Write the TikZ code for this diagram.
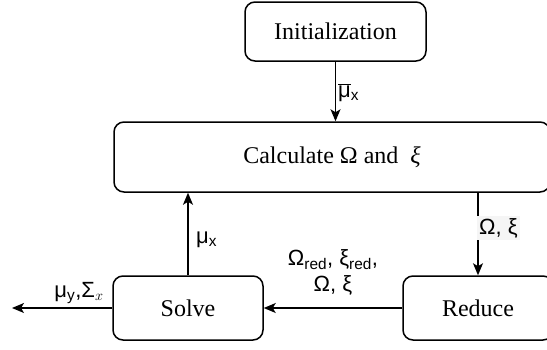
\documentclass[tikz,border=0pt]{standalone}
\usepackage{fontspec}
\setmainfont{Liberation Serif}
\newfontfamily\lblfont{Liberation Sans}
\usetikzlibrary{arrows.meta}
\tikzset{
  box/.style={draw, line width=1.5pt, rounded corners=10pt, align=center,
    font=\fontsize{24}{28}\selectfont},
  flow/.style={line width=1.3pt, -{Stealth[length=12pt,width=10pt,inset=3pt]}},
  lbl/.style={font=\lblfont\fontsize{22}{26}\selectfont, inner sep=1pt, align=center},
}
\begin{document}
\begin{tikzpicture}[x=1pt,y=-1pt]
  \useasboundingbox (0,0) rectangle (547,349);
  \clip (0,0) rectangle (547,349);

  % process boxes
  \node[box, minimum width=181pt, minimum height=59pt] (init) at (335.5,31.5) {Initialization};
  \node[box, minimum width=436pt, minimum height=70pt] (calc) at (332,157) {Calculate Ω and \ {\itshape ξ}};
  \node[box, minimum width=150pt, minimum height=64pt] (solve) at (188,308) {Solve};
  \node[box, minimum width=150pt, minimum height=64pt] (reduce) at (478,308) {Reduce};
  \coordinate (out) at (12,308);

  % connectors
  \draw[flow] (init.south) -- (init.south |- calc.north);
  \draw[flow] (reduce.north |- calc.south) -- (reduce.north);
  \draw[flow] (solve.north) -- (solve.north |- calc.south);
  \draw[flow] (reduce.west) -- (solve.east);
  \draw[flow] (solve.west) -- (out);

  % connector labels
  \node[lbl, anchor=west] (lmubar) at (337,93) {$\overline{\hbox{μ}}$\textsubscript{x}};
  \node[lbl, anchor=west, fill=gray!8, inner sep=2pt] (lom) at (477,228) {Ω, ξ};
  \node[lbl, anchor=west] (lmux) at (195,240) {μ\textsubscript{x}};
  \node[lbl] (lout) at (79,293) {μ\textsubscript{y},Σ\textsubscript{$x$}};
  \node[lbl] (lred) at (333,272) {Ω\textsubscript{red}, ξ\textsubscript{red},\\Ω, ξ};
\end{tikzpicture}
\end{document}
